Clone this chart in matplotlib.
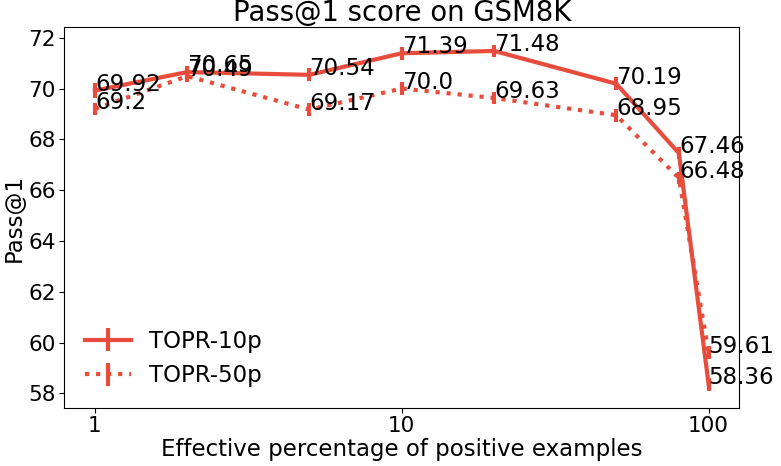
import matplotlib
matplotlib.use("Agg")
import matplotlib.pyplot as plt
from matplotlib.ticker import ScalarFormatter, NullLocator

# effective percentage of positive examples
pct = [1, 2, 5, 10, 20, 50, 80, 100]

topr_10p = [69.92, 70.65, 70.54, 71.39, 71.48, 70.19, 67.46, 58.36]
topr_10p_err = [0.28, 0.25, 0.25, 0.25, 0.25, 0.25, 0.25, 0.25]

topr_50p = [69.2, 70.49, 69.17, 70.0, 69.63, 68.95, 66.48, 59.61]
topr_50p_err = [0.25, 0.25, 0.25, 0.25, 0.25, 0.25, 0.25, 0.25]

color = '#e74c3c'

plt.rcParams['font.size'] = 16.5
plt.rcParams['xtick.labelsize'] = 15.5
plt.rcParams['ytick.labelsize'] = 15.5
plt.rcParams['xtick.major.pad'] = 2.5
plt.rcParams['ytick.major.pad'] = 2.5

fig = plt.figure(figsize=(7.81, 4.66), dpi=100)
ax = fig.add_axes([0.0823, 0.1245, 0.8643, 0.8169])

ax.errorbar(pct, topr_10p, yerr=topr_10p_err, color=color, linewidth=3,
            linestyle='-', label='TOPR-10p')
ax.errorbar(pct, topr_50p, yerr=topr_50p_err, color=color, linewidth=3,
            linestyle=':', label='TOPR-50p')

# value labels
for x, y in zip(pct, topr_10p):
    ax.text(x, y, str(y))
for x, y in zip(pct, topr_50p):
    ax.text(x, y, str(y))

ax.set_xscale('log')
ax.xaxis.set_major_formatter(ScalarFormatter())
ax.xaxis.set_minor_locator(NullLocator())

ax.set_title('Pass@1 score on GSM8K', pad=3)
ax.set_xlabel('Effective percentage of positive examples', labelpad=1)
ax.set_ylabel('Pass@1', labelpad=2)
ax.legend(loc='lower left', frameon=False)

fig.savefig('out.png', dpi=100)
